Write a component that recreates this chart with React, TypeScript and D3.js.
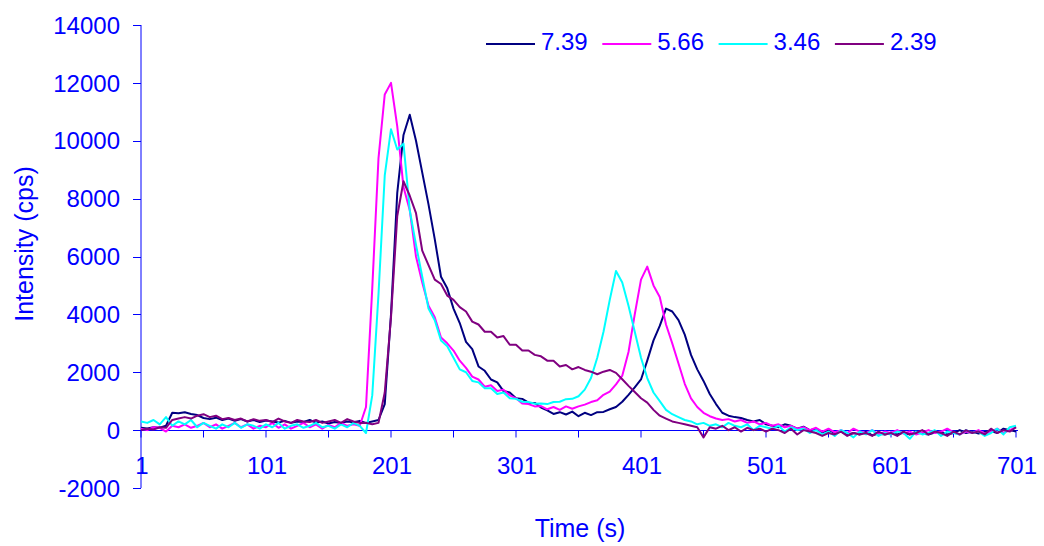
import { useRef, useEffect } from 'react'
import * as d3 from 'd3'

// time axis: one reading every 5 s, from 1 to 701
const T_START = 1
const T_STEP = 5

// readings per series (rows of 10 = 50 s each)
const S739 = [
  80, 60, 100, 80, 150, 600, 580, 620, 560, 520,
  420, 380, 430, 350, 400, 320, 380, 300, 350, 280,
  330, 300, 260, 320, 250, 300, 280, 350, 260, 300,
  230, 280, 250, 300, 270, 320, 250, 300, 350, 900,
  4000, 8200, 10200, 10900, 10000, 8900, 7800, 6600, 5300, 4900,
  4200, 3700, 3050, 2800, 2200, 2050, 1750, 1650, 1350, 1300,
  1100, 1080, 950, 940, 780, 680, 560, 620, 540, 640,
  480, 600, 520, 620, 630, 720, 800, 980, 1220, 1480,
  1750, 2400, 3100, 3600, 4200, 4100, 3800, 3300, 2600, 2100,
  1700, 1250, 900, 600, 500, 450, 420, 350, 300, 350,
  200, 150, 100, 200, 150, 50, 120, 0, 50, -80,
  0, -100, -50, -150, -100, -150, -50, -180, -120, -150,
  -100, -150, -80, -150, -50, -120, -150, -80, -60, -150,
  -100, 0, -100, -50, -120, -60, -30, -100, 50, 0,
  -50,
]

const S566 = [
  50, 0, 100, 80, -50, 150, 100, 200, 80, 150,
  250, 100, 200, 50, 150, 250, 100, 200, 50, 150,
  100, 250, 80, 200, 50, 150, 250, 100, 200, 50,
  180, 100, 250, 150, 200, 150, 800, 4900, 9400, 11600,
  12000, 10500, 8400, 7600, 6000, 5100, 4300, 3900, 3200, 3000,
  2750, 2400, 2150, 1850, 1750, 1500, 1550, 1350, 1400, 1200,
  1100, 920, 900, 820, 830, 720, 800, 700, 820, 740,
  820, 880, 970, 1030, 1220, 1330, 1580, 1880, 2700, 4000,
  5200, 5650, 5000, 4600, 3650, 3000, 2300, 1600, 1100, 800,
  600, 480, 400, 350, 380, 300, 350, 250, 300, 200,
  250, 150, 200, 100, 150, 50, 100, 0, 80, -50,
  50, -80, 0, -100, 50, -50, -100, 0, -150, -50,
  -100, 0, -120, -50, -150, -80, 0, -100, -50, 50,
  -80, -150, -50, -100, 0, -120, -50, 50, -100, 0,
  100,
]

const S346 = [
  300, 250, 350, 200, 450, 150, 300, 200, 350, 100,
  250, 150, 50, 200, 100, 250, 80, 200, 150, 50,
  200, 100, 250, 50, 150, 200, 80, 150, 250, 100,
  150, 50, 200, 100, 250, 150, -100, 1200, 4700, 8800,
  10400, 9700, 9900, 7600, 6400, 5300, 4200, 3800, 3100, 2900,
  2500, 2100, 2000, 1700, 1650, 1450, 1450, 1250, 1300, 1100,
  1080, 980, 970, 910, 920, 900, 970, 980, 1070, 1080,
  1170, 1400, 1800, 2500, 3400, 4500, 5500, 5100, 4300, 3400,
  2500, 1800, 1300, 1000, 700, 550, 450, 350, 300, 200,
  250, 150, 200, 100, 250, 150, 100, 200, 0, 150,
  100, 50, 150, -50, 100, 0, 50, -100, 0, -150,
  -50, -200, 0, -100, -250, -50, -150, 0, -200, -100,
  -150, -50, -100, -300, -50, -150, -100, 0, -200, -50,
  -100, -150, 0, -100, -50, -200, -100, 50, -150, 100,
  150,
]

const S239 = [
  0, 50, 20, 100, 80, 350, 400, 450, 400, 500,
  550, 450, 500, 380, 420, 350, 400, 300, 380, 320,
  350, 280, 400, 300, 250, 350, 300, 280, 350, 250,
  300, 350, 250, 380, 300, 250, 250, 200, 250, 1300,
  3900, 7400, 8600, 8100, 7500, 6200, 5700, 5200, 5050, 4650,
  4500, 4250, 4100, 3750, 3650, 3400, 3400, 3200, 3250, 2950,
  2950, 2750, 2750, 2600, 2550, 2400, 2400, 2200, 2250, 2100,
  2180, 2080, 2020, 1930, 2020, 2080, 1980, 1760, 1530, 1320,
  1100, 950, 700, 500, 400, 300, 250, 200, 150, 100,
  -250, 100, 50, 150, 0, 100, -50, 80, 0, 50,
  -50, 50, 0, -100, 50, -150, 0, -50, -100, -200,
  -100, -150, -50, -200, -100, -150, -100, -200, -50, -150,
  -100, -200, -50, -150, -100, 0, -150, -50, -100, -200,
  -50, -150, 0, -100, -50, -150, 50, -100, 0, -50,
  100,
]

const SERIES = [
  { name: '7.39', color: '#000080', values: S739 },
  { name: '5.66', color: '#FF00FF', values: S566 },
  { name: '3.46', color: '#00FFFF', values: S346 },
  { name: '2.39', color: '#800080', values: S239 },
]

const Y_TICKS = [-2000, 0, 2000, 4000, 6000, 8000, 10000, 12000, 14000]
const X_LABELS = [1, 101, 201, 301, 401, 501, 601, 701]
const X_TICKS = [1, 51, 101, 151, 201, 251, 301, 351, 401, 451, 501, 551, 601, 651, 701]

const BLUE = '#0000FF'
const FONT = '"Liberation Sans", Arial, sans-serif'

export default function App() {
  const svgRef = useRef<SVGSVGElement>(null)

  useEffect(() => {
    if (!svgRef.current) return
    const svg = d3.select(svgRef.current)
    svg.selectAll('*').remove()

    const width = 1044
    const height = 546

    const x = d3.scaleLinear().domain([1, 701]).range([141, 1016])
    const y = d3.scaleLinear().domain([-2000, 14000]).range([488, 25])
    const y0 = Math.round(y(0)) + 0.5

    svg.attr('width', width).attr('height', height)

    svg.append('rect').attr('width', width).attr('height', height).attr('fill', '#fff')

    // y axis
    svg.append('line')
      .attr('x1', x(1)).attr('x2', x(1))
      .attr('y1', y(14000)).attr('y2', y(-2000))
      .attr('stroke', BLUE).attr('stroke-width', 1)

    svg.selectAll('.ytick')
      .data(Y_TICKS)
      .join('line')
      .attr('class', 'ytick')
      .attr('x1', x(1) - 8).attr('x2', x(1))
      .attr('y1', d => Math.round(y(d)) + 0.5).attr('y2', d => Math.round(y(d)) + 0.5)
      .attr('stroke', BLUE)

    svg.selectAll('.ylabel')
      .data(Y_TICKS)
      .join('text')
      .attr('class', 'ylabel')
      .attr('x', 120).attr('y', d => y(d))
      .attr('dy', '0.36em')
      .attr('text-anchor', 'end')
      .style('font-family', FONT).style('font-size', '24px').style('fill', BLUE)
      .text(d => String(d))

    // x axis at zero
    svg.append('line')
      .attr('x1', x(1)).attr('x2', x(701) + 2)
      .attr('y1', y0).attr('y2', y0)
      .attr('stroke', BLUE).attr('stroke-width', 1)

    svg.selectAll('.xtick')
      .data(X_TICKS)
      .join('line')
      .attr('class', 'xtick')
      .attr('x1', d => x(d)).attr('x2', d => x(d))
      .attr('y1', y0).attr('y2', y0 + 7)
      .attr('stroke', BLUE)

    svg.selectAll('.xlabel')
      .data(X_LABELS)
      .join('text')
      .attr('class', 'xlabel')
      .attr('x', d => x(d) + 1).attr('y', 474)
      .attr('text-anchor', 'middle')
      .style('font-family', FONT).style('font-size', '24px').style('fill', BLUE)
      .text(d => String(d))

    // series
    const line = d3.line<number>()
      .x((_, i) => x(T_START + i * T_STEP))
      .y(d => y(d))

    SERIES.forEach(s => {
      svg.append('path')
        .datum(s.values)
        .attr('d', line)
        .attr('fill', 'none')
        .attr('stroke', s.color)
        .attr('stroke-width', 2)
        .attr('stroke-linejoin', 'round')
    })

    // legend
    const lg = svg.append('g').attr('transform', 'translate(486,44)')
    SERIES.forEach((s, i) => {
      const g = lg.append('g').attr('transform', `translate(${i * 116.3},0)`)
      g.append('line').attr('x1', 0).attr('x2', 49).attr('y1', 0).attr('y2', 0)
        .attr('stroke', s.color).attr('stroke-width', 2)
      g.append('text').attr('x', 55).attr('y', 5.5)
        .style('font-family', FONT).style('font-size', '24px').style('fill', BLUE)
        .text(s.name)
    })

    // titles
    svg.append('text')
      .attr('x', 580).attr('y', 537)
      .attr('text-anchor', 'middle')
      .style('font-family', FONT).style('font-size', '25px').style('fill', BLUE)
      .text('Time (s)')

    svg.append('text')
      .attr('transform', 'translate(33,244) rotate(-90)')
      .attr('text-anchor', 'middle')
      .style('font-family', FONT).style('font-size', '25px').style('fill', BLUE)
      .text('Intensity (cps)')
  }, [])

  return (
    <div style={{ position: 'absolute', left: 0, top: 0 }}>
      <svg ref={svgRef} style={{ display: 'block' }} />
    </div>
  )
}
